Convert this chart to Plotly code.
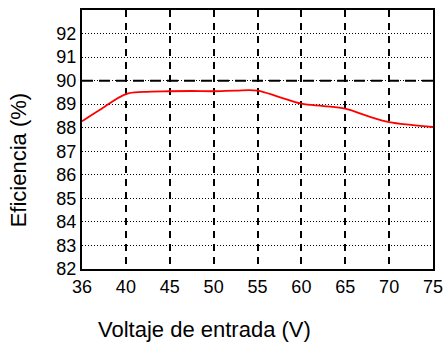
import plotly.graph_objects as go

voltage = [35, 37, 40, 42, 45, 47.5, 50, 52.5, 55, 57.5, 60, 62.5, 65, 67.5, 70, 72.5, 75]
efficiency = [88.27, 88.75, 89.43, 89.52, 89.55, 89.56, 89.55, 89.58, 89.58, 89.3, 89.02, 88.92, 88.81, 88.5, 88.24, 88.12, 88.03]

x_tickvals = [35, 40, 45, 50, 55, 60, 65, 70, 75]
x_ticktext = ["36", "40", "45", "50", "55", "60", "65", "70", "75"]
y_tickvals = list(range(82, 93))
ref_line = 90

font = "Liberation Sans, Arial, sans-serif"

fig = go.Figure()
fig.add_trace(go.Scatter(x=voltage, y=efficiency, mode="lines",
                         line=dict(color="#ff0000", width=1.8, shape="spline"),
                         showlegend=False, hoverinfo="skip"))

fig.add_shape(type="line", xref="x", yref="y", x0=35, x1=75, y0=ref_line, y1=ref_line,
              line=dict(color="black", width=2, dash="11px,6px"), layer="below")

fig.add_annotation(text="Voltaje de entrada (V)", xref="paper", yref="paper",
                   x=0.35, y=-0.235, xanchor="center", yanchor="middle",
                   showarrow=False, font=dict(size=22))
fig.add_annotation(text="Eficiencia (%)", xref="paper", yref="paper",
                   x=-0.182, y=0.42, xanchor="center", yanchor="middle",
                   textangle=-90, showarrow=False, font=dict(size=22))

fig.update_layout(
    width=443, height=342,
    margin=dict(l=82, r=10, t=10, b=73),
    paper_bgcolor="white", plot_bgcolor="white",
    font=dict(family=font, size=18, color="black"),
    xaxis=dict(range=[35, 75], tickvals=x_tickvals, ticktext=x_ticktext,
               showgrid=True, gridcolor="black", gridwidth=2, griddash="7px,6px",
               showline=True, linecolor="black", linewidth=2, mirror=True,
               ticks="", zeroline=False, tickfont=dict(size=18), automargin=False,
               ticklabeloverflow="allow"),
    yaxis=dict(range=[82, 93], tickvals=y_tickvals,
               showgrid=True, gridcolor="black", gridwidth=1, griddash="1px,2px",
               showline=True, linecolor="black", linewidth=2, mirror=True,
               ticks="", zeroline=False, tickfont=dict(size=18), automargin=False),
)

fig.write_html("out.html", config={"displayModeBar": False},
               post_script="document.body.style.margin='0';document.body.style.overflow='hidden';")
